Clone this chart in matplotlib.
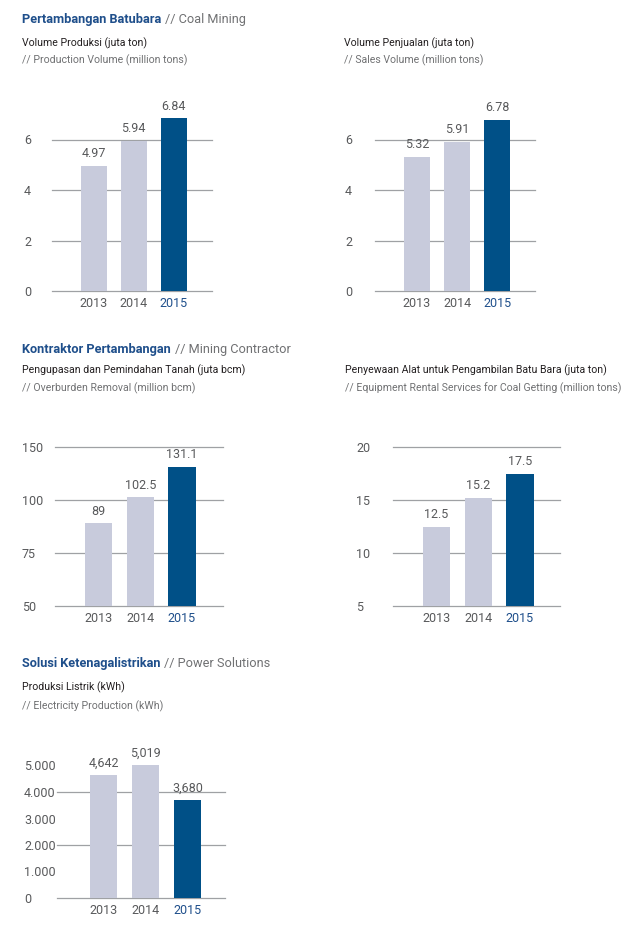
import matplotlib
matplotlib.use("Agg")
import matplotlib.pyplot as plt
import numpy as np

plt.rcParams['font.family'] = ['Roboto', 'DejaVu Sans']

W, H = 640, 936

years = ["2013", "2014", "2015"]

coal_production = [4.97, 5.94, 6.84]
coal_production_labels = ["4.97", "5.94", "6.84"]
coal_production_ticks = [0, 2, 4, 6]

coal_sales = [5.32, 5.91, 6.78]
coal_sales_labels = ["5.32", "5.91", "6.78"]
coal_sales_ticks = [0, 2, 4, 6]

overburden = [89, 102.5, 131.1]
overburden_labels = ["89", "102.5", "131.1"]
overburden_ticks = [50, 75, 100, 150]

rental = [12.5, 15.2, 17.5]
rental_labels = ["12.5", "15.2", "17.5"]
rental_ticks = [5, 10, 15, 20]

electricity = [4642, 5019, 3680]
electricity_labels = ["4,642", "5,019", "3,680"]
electricity_ticks = [0, 1000, 2000, 3000, 4000, 5000]
electricity_ticklabels = ["0", "1.000", "2.000", "3.000", "4.000", "5.000"]
electricity_grid = [0, 2000, 4000]

LIGHT = "#c8cbdc"
DARK = "#005087"
BLUE_TXT = "#1f4f8b"
GRAY_TXT = "#707173"
TICK_TXT = "#58595b"
GRID = "#9fa1a4"
SUB = 7.6
TITLE = 9.2

fig = plt.figure(figsize=(W / 100, H / 100), dpi=100)


def txt(x, y, s, **kw):
    fig.text(x / W, 1 - y / H, s, va="center", ha="left", **kw)


def make(left, right, y0px, ymin, ymax, pxunit, spacing, first_center,
         values, labels, ticks, ticklabels=None, grid=None, tickx=None,
         scale=None):
    top = y0px - (ymax - ymin) * pxunit
    ax = fig.add_axes([left / W, 1 - y0px / H, (right - left) / W, (y0px - top) / H])
    if scale is not None:
        ax.set_yscale("function", functions=scale)
        ax.set_ylim(scale[1](ymin), scale[1](ymax))
    else:
        ax.set_ylim(ymin, ymax)
    xmin = -(first_center - left) / spacing
    xmax = xmin + (right - left) / spacing
    ax.set_xlim(xmin, xmax)
    colors = [LIGHT, LIGHT, DARK]
    bottom = ax.get_ylim()[0]
    ax.bar(range(len(values)), np.array(values) - bottom, bottom=bottom,
           width=0.65, color=colors, zorder=3)
    for i, (v, lab) in enumerate(zip(values, labels)):
        ax.annotate(lab, (i, v), xytext=(0, 4), textcoords="offset points",
                    ha="center", va="bottom", fontsize=9, color=TICK_TXT,
                    annotation_clip=False)
    for g in (grid if grid is not None else ticks):
        ax.axhline(g, color=GRID, lw=0.9, zorder=1, clip_on=False)
    ax.set_yticks(ticks)
    ax.set_yticklabels(ticklabels if ticklabels else [str(t) for t in ticks])
    pad_pt = (left - tickx) * 72 / 100
    ax.tick_params(axis="y", length=0, pad=pad_pt, labelsize=9, labelcolor=TICK_TXT)
    for lab in ax.get_yticklabels():
        lab.set_horizontalalignment("left")
    ax.yaxis.set_minor_locator(plt.NullLocator())
    ax.set_xticks(range(len(values)))
    ax.set_xticklabels(years)
    ax.tick_params(axis="x", length=0, pad=4, labelsize=9)
    for i, lab in enumerate(ax.get_xticklabels()):
        lab.set_color(BLUE_TXT if i == 2 else TICK_TXT)
    for s in ax.spines.values():
        s.set_visible(False)
    ax.patch.set_alpha(0)
    return ax


def section(x, y, bold, light):
    t = fig.text(x / W, 1 - y / H, bold, va="center", ha="left", fontsize=TITLE,
                 fontweight="bold", color=BLUE_TXT)
    fig.canvas.draw()
    bb = t.get_window_extent()
    fig.text((bb.x1 + 4) / W, 1 - y / H, "// " + light, va="center", ha="left",
             fontsize=TITLE, color=GRAY_TXT)


section(22, 19, "Pertambangan Batubara", "Coal Mining")
txt(22, 43, "Volume Produksi (juta ton)", fontsize=SUB, color="#231f20")
txt(22, 60, "// Production Volume (million tons)", fontsize=SUB, color=GRAY_TXT)
txt(344, 43, "Volume Penjualan (juta ton)", fontsize=SUB, color="#231f20")
txt(344, 60, "// Sales Volume (million tons)", fontsize=SUB, color=GRAY_TXT)

make(52, 212, 291, 0, 7.5, 25.25, 40, 93.5,
     coal_production, coal_production_labels, coal_production_ticks, tickx=24)
make(375, 535, 291, 0, 7.5, 25.25, 40, 417,
     coal_sales, coal_sales_labels, coal_sales_ticks, tickx=345)

section(22, 349, "Kontraktor Pertambangan", "Mining Contractor")
txt(22, 370, "Pengupasan dan Pemindahan Tanah (juta bcm)", fontsize=SUB, color="#231f20")
txt(22, 388, "// Overburden Removal (million bcm)", fontsize=SUB, color=GRAY_TXT)
txt(345, 370, "Penyewaan Alat untuk Pengambilan Batu Bara (juta ton)", fontsize=SUB, color="#231f20")
txt(345, 388, "// Equipment Rental Services for Coal Getting (million tons)", fontsize=SUB, color=GRAY_TXT)

# overburden axis: ticks 50, 75, 100, 150 drawn evenly spaced (piecewise-linear scale)
ob_pos = np.arange(len(overburden_ticks), dtype=float)
ob_vals = np.array(overburden_ticks, dtype=float)


def ob_fwd(v):
    v = np.asarray(v, dtype=float)
    return np.where(v < ob_vals[0], (v - ob_vals[0]) / 25.0,
                    np.where(v > ob_vals[-1], ob_pos[-1] + (v - ob_vals[-1]) / 50.0,
                             np.interp(v, ob_vals, ob_pos)))


def ob_inv(p):
    p = np.asarray(p, dtype=float)
    return np.where(p < ob_pos[0], ob_vals[0] + p * 25.0,
                    np.where(p > ob_pos[-1], ob_vals[-1] + (p - ob_pos[-1]) * 50.0,
                             np.interp(p, ob_pos, ob_vals)))


make(55, 223, 606, 0, 3.3, 53, 41.75, 98.5,
     overburden, overburden_labels, overburden_ticks, tickx=22,
     scale=(ob_fwd, ob_inv))

make(393, 560, 606, 5, 21, 10.6, 41.75, 436.5,
     rental, rental_labels, rental_ticks, tickx=356)

section(22, 664, "Solusi Ketenagalistrikan", "Power Solutions")
txt(22, 687, "Produksi Listrik (kWh)", fontsize=SUB, color="#231f20")
txt(22, 706, "// Electricity Production (kWh)", fontsize=SUB, color=GRAY_TXT)

make(57, 225, 898, 0, 5600, 0.0265, 42, 103.5,
     electricity, electricity_labels, electricity_ticks,
     ticklabels=electricity_ticklabels, grid=electricity_grid, tickx=24)

fig.savefig("out.png", dpi=100, facecolor="white")
